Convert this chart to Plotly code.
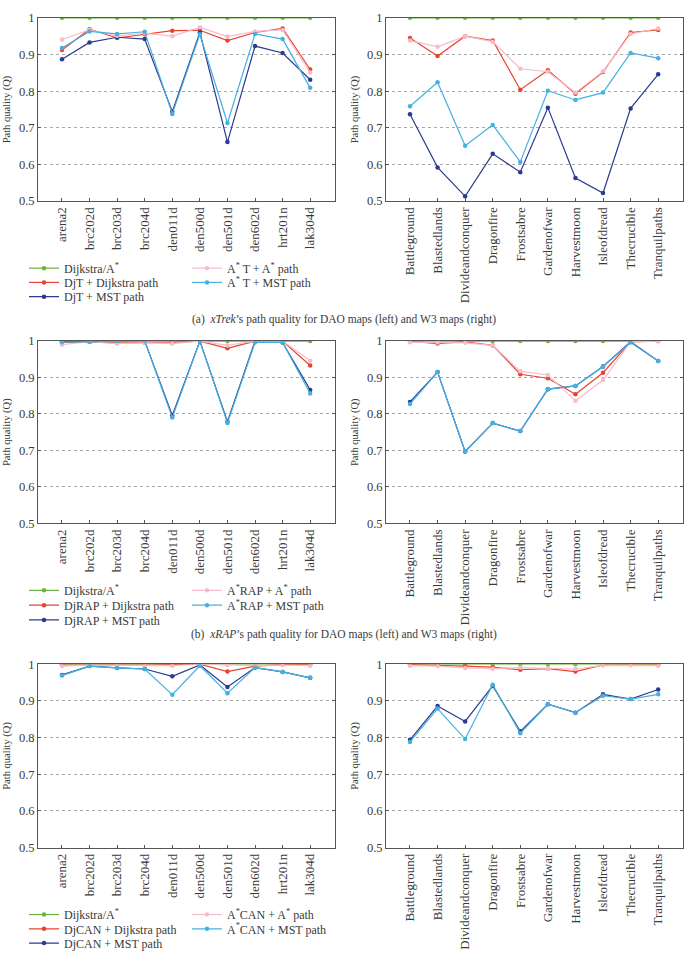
import plotly.graph_objects as go

dao_maps = ["arena2", "brc202d", "brc203d", "brc204d", "den011d", "den500d",
            "den501d", "den602d", "hrt201n", "lak304d"]
w3_maps = ["Battleground", "Blastedlands", "Divideandconquer", "Dragonfire", "Frostsabre",
           "Gardenofwar", "Harvestmoon", "Isleofdread", "Thecrucible", "Tranquilpaths"]

dijkstra_astar = [1.0, 1.0, 1.0, 1.0, 1.0, 1.0, 1.0, 1.0, 1.0, 1.0]

# (a) xTrek
xtrek_dao_dj_dijkstra = [0.912, 0.969, 0.945, 0.955, 0.965, 0.966, 0.938, 0.960, 0.971, 0.859]
xtrek_dao_dj_mst = [0.887, 0.933, 0.947, 0.942, 0.744, 0.960, 0.661, 0.923, 0.904, 0.831]
xtrek_dao_as_astar = [0.941, 0.967, 0.951, 0.958, 0.950, 0.974, 0.949, 0.963, 0.967, 0.851]
xtrek_dao_as_mst = [0.918, 0.963, 0.956, 0.962, 0.738, 0.955, 0.713, 0.956, 0.942, 0.809]

xtrek_w3_dj_dijkstra = [0.945, 0.896, 0.950, 0.938, 0.804, 0.857, 0.793, 0.852, 0.960, 0.967]
xtrek_w3_dj_mst = [0.737, 0.592, 0.513, 0.629, 0.579, 0.755, 0.563, 0.522, 0.753, 0.846]
xtrek_w3_as_astar = [0.938, 0.921, 0.950, 0.935, 0.861, 0.853, 0.796, 0.854, 0.956, 0.971]
xtrek_w3_as_mst = [0.759, 0.824, 0.651, 0.708, 0.607, 0.801, 0.776, 0.796, 0.904, 0.890]

# (b) xRAP
xrap_dao_dj_dijkstra = [0.996, 0.998, 0.995, 0.995, 0.996, 1.0, 0.980, 1.0, 1.0, 0.933]
xrap_dao_dj_mst = [1.0, 0.998, 1.0, 1.0, 0.796, 1.0, 0.779, 1.0, 0.996, 0.866]
xrap_dao_as_astar = [0.990, 0.998, 0.993, 0.995, 0.993, 1.0, 0.988, 1.0, 1.0, 0.946]
xrap_dao_as_mst = [0.997, 0.998, 1.0, 1.0, 0.790, 1.0, 0.775, 0.996, 0.996, 0.856]

xrap_w3_dj_dijkstra = [1.0, 0.993, 0.998, 0.988, 0.909, 0.898, 0.854, 0.913, 0.998, 1.0]
xrap_w3_dj_mst = [0.833, 0.915, 0.697, 0.775, 0.753, 0.868, 0.877, 0.930, 0.998, 0.945]
xrap_w3_as_astar = [0.997, 0.996, 0.995, 0.988, 0.917, 0.907, 0.836, 0.893, 0.998, 1.0]
xrap_w3_as_mst = [0.827, 0.915, 0.697, 0.775, 0.753, 0.868, 0.877, 0.930, 0.996, 0.945]

# (c) xCAN
xcan_dao_dj_dijkstra = [0.998, 0.999, 0.998, 0.998, 0.998, 1.0, 0.980, 0.995, 0.999, 1.0]
xcan_dao_dj_mst = [0.971, 0.995, 0.990, 0.987, 0.967, 0.998, 0.938, 0.991, 0.979, 0.963]
xcan_dao_as_astar = [0.995, 0.998, 0.997, 0.996, 0.996, 1.0, 0.998, 0.996, 0.998, 0.996]
xcan_dao_as_mst = [0.969, 0.995, 0.990, 0.987, 0.917, 0.996, 0.921, 0.991, 0.979, 0.963]

xcan_w3_dj_dijkstra = [0.999, 0.998, 0.995, 0.992, 0.985, 0.988, 0.980, 0.998, 0.999, 0.998]
xcan_w3_dj_mst = [0.794, 0.886, 0.844, 0.941, 0.817, 0.891, 0.868, 0.918, 0.905, 0.931]
xcan_w3_as_astar = [0.996, 0.995, 0.990, 0.988, 0.991, 0.988, 0.987, 0.997, 0.997, 0.996]
xcan_w3_as_mst = [0.788, 0.879, 0.796, 0.944, 0.812, 0.891, 0.868, 0.914, 0.905, 0.918]

FONT = "Liberation Serif"
W, H = 688, 958
COLORS = ["#6db33f", "#e8432e", "#2b3b8f", "#f7bcc7", "#45b1e0"]
TXT = "#3a3a3a"

panels = [
    ("T", " T", dao_maps, [dijkstra_astar, xtrek_dao_dj_dijkstra, xtrek_dao_dj_mst, xtrek_dao_as_astar, xtrek_dao_as_mst],
          w3_maps, [dijkstra_astar, xtrek_w3_dj_dijkstra, xtrek_w3_dj_mst, xtrek_w3_as_astar, xtrek_w3_as_mst]),
    ("RAP", "RAP", dao_maps, [dijkstra_astar, xrap_dao_dj_dijkstra, xrap_dao_dj_mst, xrap_dao_as_astar, xrap_dao_as_mst],
            w3_maps, [dijkstra_astar, xrap_w3_dj_dijkstra, xrap_w3_dj_mst, xrap_w3_as_astar, xrap_w3_as_mst]),
    ("CAN", "CAN", dao_maps, [dijkstra_astar, xcan_dao_dj_dijkstra, xcan_dao_dj_mst, xcan_dao_as_astar, xcan_dao_as_mst],
            w3_maps, [dijkstra_astar, xcan_w3_dj_dijkstra, xcan_w3_dj_mst, xcan_w3_as_astar, xcan_w3_as_mst]),
]

# pixel geometry
x_left = (38, 335)
x_right = (386, 683)
y_rows = [(11, 197), (339, 524), (667, 853)]
legend_rows = [(265, 279.5, 294), (592, 607, 622), (921, 935.5, 950)]
legend_cols = (24, 187)
captions = [
    (317, "(a)  <i>xTrek</i>’s path quality for DAO maps (left) and W3 maps (right)"),
    (637, "(b)  <i>xRAP</i>’s path quality for DAO maps (left) and W3 maps (right)"),
]


def px_x(p):
    return p / W


def px_y(p):
    return 1 - p / H


fig = go.Figure()
layout = dict(
    width=W, height=H, margin=dict(l=0, r=0, t=0, b=0),
    paper_bgcolor="white", plot_bgcolor="white",
    font=dict(family=FONT, size=12, color=TXT),
    annotations=[],
)

# legend slot (column, row) for each of the five series
slots = [(0, 0), (0, 1), (0, 2), (1, 0), (1, 1)]

ax_idx = 0
for r, (suffix, asuffix, cats_l, series_l, cats_r, series_r) in enumerate(panels):
    names = ["Dijkstra/A<sup>*</sup>",
             f"Dj{suffix} + Dijkstra path",
             f"Dj{suffix} + MST path",
             f"A<sup>*</sup>{asuffix} + A<sup>*</sup> path",
             f"A<sup>*</sup>{asuffix} + MST path"]
    legkeys = []
    for k in range(5):
        n = r * 5 + k + 1
        key = "legend" if n == 1 else f"legend{n}"
        legkeys.append(key)
        col, row = slots[k]
        layout[key] = dict(
            x=px_x(legend_cols[col]), y=px_y(legend_rows[r][row]),
            xanchor="left", yanchor="middle", bgcolor="rgba(0,0,0,0)", borderwidth=0,
            font=dict(family=FONT, size=12, color=TXT), itemwidth=30,
            orientation="v",
        )
    for c, (cats, series) in enumerate([(cats_l, series_l), (cats_r, series_r)]):
        ax_idx += 1
        xa = "x" if ax_idx == 1 else f"x{ax_idx}"
        ya = "y" if ax_idx == 1 else f"y{ax_idx}"
        for k, (vals, nm) in enumerate(zip(series, names)):
            fig.add_trace(go.Scatter(
                x=cats, y=vals, name=nm, mode="lines+markers",
                line=dict(color=COLORS[k], width=1.2),
                marker=dict(color=COLORS[k], size=4.5),
                xaxis=xa, yaxis=ya,
                showlegend=(c == 0),
                legend=legkeys[k],
            ))
        xd = x_left if c == 0 else x_right
        yd = y_rows[r]
        xkey = "xaxis" if ax_idx == 1 else f"xaxis{ax_idx}"
        ykey = "yaxis" if ax_idx == 1 else f"yaxis{ax_idx}"
        layout[xkey] = dict(
            domain=[px_x(xd[0]), px_x(xd[1])], anchor=ya, type="category",
            range=[-0.87, 9.9], tickangle=-90, ticks="inside", ticklen=3,
            tickcolor="#555", showline=True, linecolor="#555", linewidth=1,
            mirror=True, showgrid=False, zeroline=False,
            tickfont=dict(family=FONT, size=13, color=TXT),
        )
        layout[ykey] = dict(
            domain=[px_y(yd[1]), px_y(yd[0])], anchor=xa,
            range=[0.5, 1.0], dtick=0.1, tick0=0.5, ticks="inside", ticklen=3,
            tickcolor="#555", showline=True, linecolor="#555", linewidth=1,
            mirror="ticks", showgrid=True, gridcolor="#a8a8a8", griddash="dot",
            gridwidth=1, zeroline=False,
            tickfont=dict(family=FONT, size=12.5, color=TXT),
            title=dict(text="Path quality (Q)", font=dict(family=FONT, size=10.5, color=TXT),
                       standoff=6),
        )

for ypix, txt in captions:
    layout["annotations"].append(dict(
        text=txt, x=0.5, y=px_y(ypix), xref="paper", yref="paper",
        xanchor="center", yanchor="middle", showarrow=False,
        font=dict(family=FONT, size=11.5, color=TXT),
    ))

fig.update_layout(**layout)
fig.write_html("out.html")
